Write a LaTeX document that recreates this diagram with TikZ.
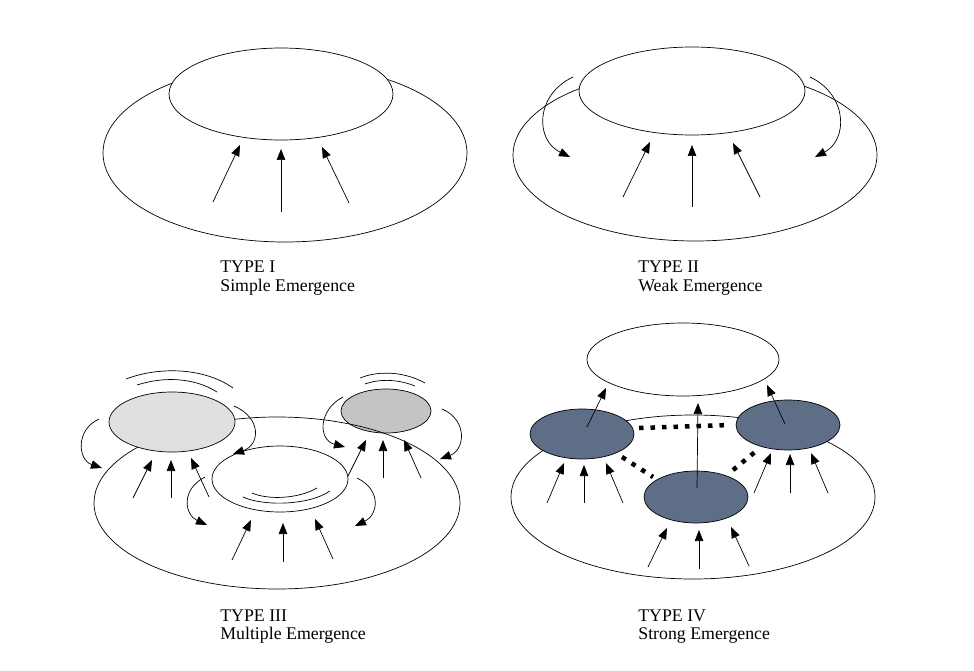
\documentclass[tikz,border=0pt]{standalone}
\usepackage{fontspec}
\setmainfont{Liberation Serif}
\usepackage{xcolor}
\usetikzlibrary{shapes.geometric,arrows.meta}

\definecolor{palegrey}{HTML}{E0E0E0}
\definecolor{midgrey}{HTML}{C4C4C4}
\definecolor{slate}{HTML}{5E6E86}

\begin{document}
\begin{tikzpicture}[x=1pt, y=-1pt, >={Triangle[width=8.5pt,length=11pt]}, line width=0.7pt,
    level/.style={draw, ellipse, inner sep=0pt, fill=white},
    caption/.style={anchor=base west, inner sep=0pt, font=\fontsize{17.8}{18}\selectfont},
    link/.style={line width=4.5pt, dash pattern=on 4.5pt off 7pt}]
    \useasboundingbox (0,0) rectangle (974,671);

    % TYPE I
    \node[draw, ellipse, inner sep=0pt, minimum width=364pt, minimum height=178pt] (whole1) at (285,153) {};
    \node[level, minimum width=224pt, minimum height=92pt] (top1) at (281,94) {};
    \foreach \xa/\ya/\xb/\yb in {213/202/240/145, 281/212/281/149, 349/203/322/147}
        \draw[->] (\xa,\ya) -- (\xb,\yb);
    \node[caption] (type1) at (220,272.5) {TYPE I};
    \node[caption] (name1) at (220,291) {Simple Emergence};

    % TYPE II
    \node[draw, ellipse, inner sep=0pt, minimum width=364pt, minimum height=172pt] (whole2) at (695,155) {};
    \node[level, minimum width=226pt, minimum height=88pt] (top2) at (692,91) {};
    \foreach \xa/\ya/\xb/\yb in {623/197/650/142, 692/207/692/145, 760/197/733/143}
        \draw[->] (\xa,\ya) -- (\xb,\yb);
    \draw[->] (573,77) .. controls (535,95) and (535,140) .. (570,157);
    \draw[->] (810,77) .. controls (848,95) and (848,140) .. (815,157);
    \node[caption] (type2) at (638,272.5) {TYPE II};
    \node[caption] (name2) at (638,291) {Weak Emergence};

    % TYPE III
    \node[level, fill=midgrey, minimum width=90pt, minimum height=44pt] (right3) at (386,411) {};
    \node[draw, ellipse, inner sep=0pt, minimum width=366pt, minimum height=172pt] (whole3) at (277,503) {};
    \node[level, fill=palegrey, minimum width=126pt, minimum height=60pt] (left3) at (172,422) {};
    \node[level, minimum width=136pt, minimum height=66pt] (mid3) at (280,479) {};
    \foreach \xa/\ya/\xb/\yb in {133/498/152/460, 171/498/171/460, 209/497/191/458,
                                 232/560/251/520, 283/562/283/523, 333/559/315/519,
                                 348/476/366/440, 383/478/383/440, 421/478/404/440}
        \draw[->] (\xa,\ya) -- (\xb,\yb);
    \draw[->] (99,419) .. controls (75,430) and (78,460) .. (102,468);
    \draw[->] (234,406) .. controls (262,418) and (260,445) .. (233,454);
    \draw[->] (205,477) .. controls (180,490) and (185,515) .. (207,525);
    \draw[->] (357,478) .. controls (382,490) and (378,515) .. (355,526);
    \draw[->] (343,397) .. controls (318,410) and (318,440) .. (345,447);
    \draw[->] (442,409) .. controls (468,420) and (465,450) .. (440,459);
    % ripples
    \draw (126,379) .. controls (160,366) and (205,368) .. (233,388);
    \draw (137,385) .. controls (165,376) and (195,378) .. (217,392);
    \draw (360,378) .. controls (380,370) and (405,372) .. (425,383);
    \draw (365,384) .. controls (382,378) and (400,380) .. (415,386);
    \draw (252,493) .. controls (268,500) and (298,499) .. (317,488);
    \draw (243,497) .. controls (262,506) and (308,506) .. (330,491);
    \node[caption] (type3) at (220,621) {TYPE III};
    \node[caption] (name3) at (220,639) {Multiple Emergence};

    % TYPE IV
    \node[draw, ellipse, inner sep=0pt, minimum width=364pt, minimum height=164pt] (whole4) at (693,497) {};
    \node[level, minimum width=192pt, minimum height=73pt] (top4) at (683,359.5) {};
    \node[level, fill=slate, minimum width=104pt, minimum height=50pt] (left4) at (582,434) {};
    \node[level, fill=slate, minimum width=104pt, minimum height=50pt] (right4) at (788,425) {};
    \node[level, fill=slate, minimum width=104pt, minimum height=52pt] (mid4) at (696,497) {};
    \draw[link] (639,428) -- (730,425);
    \draw[link] (622,457) -- (653,477);
    \draw[link] (733,470) -- (755,452);
    \foreach \xa/\ya/\xb/\yb in {587/427/606/388, 785/424/767/385, 697/488/698/403,
                                 547/503/564/463, 584/503/584/465, 623/503/606/463,
                                 648/567/667/528, 699/569/699/530, 749/566/731/527,
                                 754/493/771/453, 790/493/790/454, 828/493/811/453}
        \draw[->] (\xa,\ya) -- (\xb,\yb);
    \node[caption] (type4) at (638,621) {TYPE IV};
    \node[caption] (name4) at (638,639) {Strong Emergence};
\end{tikzpicture}
\end{document}
